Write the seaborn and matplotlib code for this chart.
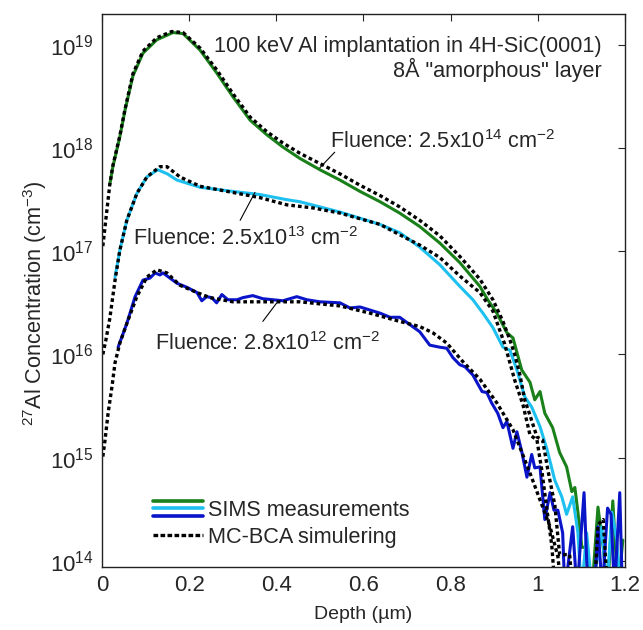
import numpy as np
import pandas as pd
import seaborn as sns
import matplotlib.pyplot as plt
from matplotlib.lines import Line2D
from matplotlib.legend_handler import HandlerBase

# SIMS, fluence 2.5e14 cm^-2  (depth in um, log10 of concentration in cm^-3)
sims_hi_depth = [0.018, 0.025, 0.041, 0.053, 0.071, 0.094, 0.126, 0.163, 0.186, 0.225,
                 0.263, 0.300, 0.340, 0.378, 0.415, 0.454, 0.500, 0.546, 0.592, 0.638,
                 0.683, 0.729, 0.775, 0.821, 0.867, 0.885, 0.906, 0.929, 0.943, 0.963,
                 0.982, 0.993, 1.005, 1.016, 1.034, 1.050, 1.066, 1.078, 1.085, 1.092,
                 1.101, 1.112, 1.124, 1.138, 1.150, 1.160, 1.172, 1.184, 1.195]
sims_hi_log = [17.65, 17.82, 18.11, 18.37, 18.70, 18.92, 19.05, 19.12, 19.11, 18.95,
               18.73, 18.50, 18.27, 18.13, 18.01, 17.90, 17.79, 17.69, 17.58, 17.48,
               17.37, 17.24, 17.08, 16.89, 16.66, 16.53, 16.40, 16.21, 16.16, 15.85,
               15.73, 15.56, 15.64, 15.43, 15.29, 15.05, 14.91, 14.67, 14.71, 14.47,
               14.13, 14.13, 13.70, 14.52, 14.13, 13.70, 14.58, 13.70, 14.20]

# SIMS, fluence 2.5e13 cm^-2
sims_mid_depth = [0.030, 0.041, 0.057, 0.080, 0.103, 0.128, 0.150, 0.172, 0.225, 0.300,
                  0.362, 0.424, 0.454, 0.500, 0.546, 0.592, 0.638, 0.683, 0.729, 0.775,
                  0.821, 0.851, 0.874, 0.897, 0.920, 0.936, 0.952, 0.970, 0.986, 1.005,
                  1.021, 1.039, 1.055, 1.066, 1.080, 1.092, 1.100, 1.112, 1.125, 1.147,
                  1.158, 1.170, 1.181, 1.190]
sims_mid_log = [16.75, 17.01, 17.30, 17.56, 17.72, 17.79, 17.75, 17.69, 17.62, 17.58,
                17.55, 17.50, 17.48, 17.43, 17.38, 17.32, 17.26, 17.18, 17.04, 16.87,
                16.66, 16.53, 16.40, 16.26, 16.07, 16.04, 15.85, 15.59, 15.49, 15.30,
                15.08, 14.78, 14.62, 14.45, 14.62, 14.27, 13.70, 14.27, 13.70, 14.33,
                13.70, 14.47, 14.20, 13.70]

# SIMS, fluence 2.8e12 cm^-2
sims_lo_depth = [0.037, 0.057, 0.076, 0.094, 0.110, 0.122, 0.133, 0.140, 0.156, 0.172,
                 0.195, 0.218, 0.229, 0.240, 0.252, 0.263, 0.275, 0.289, 0.310, 0.323,
                 0.346, 0.369, 0.392, 0.415, 0.447, 0.470, 0.500, 0.546, 0.569, 0.592,
                 0.615, 0.638, 0.661, 0.683, 0.706, 0.729, 0.752, 0.775, 0.791, 0.805,
                 0.821, 0.833, 0.851, 0.872, 0.883, 0.894, 0.908, 0.920, 0.929, 0.943,
                 0.952, 0.963, 0.975, 0.986, 0.993, 1.005, 1.016, 1.028, 1.037, 1.046,
                 1.057, 1.062, 1.080, 1.090, 1.106, 1.115, 1.130, 1.138, 1.148, 1.160,
                 1.168, 1.176, 1.188, 1.194]
sims_lo_log = [16.07, 16.30, 16.56, 16.72, 16.74, 16.79, 16.77, 16.79, 16.74, 16.69,
               16.65, 16.60, 16.52, 16.56, 16.55, 16.50, 16.58, 16.53, 16.53, 16.55,
               16.57, 16.54, 16.53, 16.52, 16.56, 16.53, 16.51, 16.50, 16.45, 16.46,
               16.43, 16.40, 16.36, 16.36, 16.29, 16.22, 16.09, 16.07, 16.06, 15.97,
               15.90, 15.88, 15.80, 15.64, 15.63, 15.53, 15.43, 15.29, 15.35, 15.09,
               15.25, 15.06, 14.81, 15.03, 14.90, 14.91, 14.40, 14.66, 14.49, 14.49,
               14.27, 13.70, 14.33, 13.70, 14.66, 13.70, 13.70, 14.33, 13.70, 14.51,
               14.45, 13.70, 14.66, 13.70]

# MC-BCA simulations
bca_hi_depth = [0.002, 0.018, 0.025, 0.041, 0.053, 0.071, 0.094, 0.126, 0.160, 0.186,
                0.225, 0.263, 0.300, 0.340, 0.378, 0.415, 0.454, 0.500, 0.546, 0.592,
                0.638, 0.683, 0.729, 0.775, 0.821, 0.867, 0.897, 0.920, 0.936, 0.947,
                0.959, 0.970, 0.982, 0.998, 1.011, 1.023, 1.039, 1.050, 1.073, 1.080,
                1.130, 1.138, 1.150, 1.160]
bca_hi_log = [17.05, 17.65, 17.83, 18.12, 18.38, 18.72, 18.94, 19.07, 19.13, 19.12,
              18.97, 18.76, 18.53, 18.30, 18.16, 18.05, 17.95, 17.85, 17.75, 17.64,
              17.54, 17.43, 17.30, 17.15, 16.95, 16.73, 16.53, 16.32, 16.14, 16.00,
              15.80, 15.56, 15.41, 15.20, 15.17, 14.88, 14.54, 14.06, 14.06, 13.70,
              13.70, 14.35, 14.40, 13.70]

bca_mid_depth = [0.002, 0.009, 0.018, 0.030, 0.041, 0.057, 0.080, 0.103, 0.133, 0.149,
                 0.179, 0.225, 0.300, 0.362, 0.424, 0.484, 0.546, 0.638, 0.683, 0.729,
                 0.775, 0.821, 0.867, 0.897, 0.924, 0.947, 0.966, 0.982, 0.998, 1.009,
                 1.021, 1.032, 1.040]
bca_mid_log = [16.00, 16.14, 16.35, 16.72, 17.01, 17.30, 17.56, 17.72, 17.82, 17.82,
               17.72, 17.63, 17.57, 17.52, 17.45, 17.42, 17.37, 17.26, 17.16, 17.06,
               16.94, 16.76, 16.60, 16.42, 16.10, 15.75, 15.51, 15.22, 15.17, 14.88,
               14.49, 14.15, 13.70]

bca_lo_depth = [0.002, 0.007, 0.014, 0.023, 0.030, 0.041, 0.057, 0.080, 0.103, 0.126,
                0.149, 0.179, 0.218, 0.248, 0.300, 0.378, 0.454, 0.546, 0.615, 0.683,
                0.729, 0.759, 0.791, 0.828, 0.867, 0.906, 0.943, 0.982, 1.005, 1.028,
                1.046, 1.055]
bca_lo_log = [15.01, 15.17, 15.43, 15.69, 15.92, 16.11, 16.30, 16.56, 16.75, 16.82,
              16.79, 16.67, 16.60, 16.55, 16.51, 16.51, 16.51, 16.47, 16.40, 16.32,
              16.27, 16.21, 16.11, 15.93, 15.76, 15.53, 15.27, 14.85, 14.59, 14.33,
              14.04, 13.70]

sims_colors = ["#1a801a", "#1ec0f0", "#0a14c8"]
fluence_labels = ["Fluence: 2.5x10$^{14}$ cm$^{-2}$",
                  "Fluence: 2.5x10$^{13}$ cm$^{-2}$",
                  "Fluence: 2.8x10$^{12}$ cm$^{-2}$"]

sims = [(sims_hi_depth, sims_hi_log), (sims_mid_depth, sims_mid_log), (sims_lo_depth, sims_lo_log)]
bca = [(bca_hi_depth, bca_hi_log), (bca_mid_depth, bca_mid_log), (bca_lo_depth, bca_lo_log)]

sns.set_style("white")
plt.rcParams['font.family'] = ['Liberation Sans', 'DejaVu Sans']
plt.rcParams['mathtext.fontset'] = 'custom'
plt.rcParams['mathtext.rm'] = 'Liberation Sans'
plt.rcParams['xtick.direction'] = 'in'
plt.rcParams['ytick.direction'] = 'in'

fig = plt.figure(figsize=(6.43, 6.30), dpi=100)
ax = fig.add_axes([0.1586, 0.10, 0.8134, 0.878])

for (d, lg), c in zip(sims, sims_colors):
    df = pd.DataFrame({"depth": d, "conc": 10.0 ** np.array(lg)})
    sns.lineplot(data=df, x="depth", y="conc", color=c, lw=2.2, ax=ax,
                 sort=False, estimator=None)

for d, lg in bca:
    df = pd.DataFrame({"depth": d, "conc": 10.0 ** np.array(lg)})
    sns.lineplot(data=df, x="depth", y="conc", color="black", lw=2.4, ax=ax,
                 sort=False, estimator=None, linestyle=(0, (1.1, 0.9)))

ax.set_yscale("log")
ax.set_xlim(0, 1.2)
ax.set_ylim(8.7e13, 2.0e19)
ax.set_xticks([0, 0.2, 0.4, 0.6, 0.8, 1.0, 1.2])
ax.set_xticklabels(["0", "0.2", "0.4", "0.6", "0.8", "1", "1.2"])
ax.set_yticks([1e14, 1e15, 1e16, 1e17, 1e18, 1e19])
ax.yaxis.set_minor_locator(plt.NullLocator())
ax.tick_params(axis="both", which="both", top=True, right=True, length=5,
               width=0.8, labelsize=16, pad=6)
for s in ax.spines.values():
    s.set_linewidth(1.0)
    s.set_color("#222222")

ax.set_xlabel("Depth (µm)", fontsize=14, labelpad=7)
ax.set_ylabel("$^{27}$Al Concentration (cm$^{-3}$)", fontsize=15.6)
ax.yaxis.set_label_coords(-0.102, 0.477)

ax.text(0.956, 0.931, "100 keV Al implantation in 4H-SiC(0001)", transform=ax.transAxes,
        ha="right", va="baseline", fontsize=15.6)
ax.text(0.956, 0.886, "8Å \"amorphous\" layer", transform=ax.transAxes,
        ha="right", va="baseline", fontsize=15.6)

label_pos = [(0.436, 0.758), (0.059, 0.582), (0.101, 0.392)]
line_ends = [((0.534, 17.96), (0.500, 17.81)),
             ((0.351, 17.57), (0.317, 17.30)),
             ((0.401, 16.50), (0.369, 16.32))]
for txt, (tx, ty), (p0, p1) in zip(fluence_labels, label_pos, line_ends):
    ax.text(tx, ty, txt, transform=ax.transAxes, ha="left", va="baseline", fontsize=15.6)
    ax.plot([p0[0], p1[0]], [10 ** p0[1], 10 ** p1[1]], color="black", lw=0.8)


class StackHandler(HandlerBase):
    def create_artists(self, legend, orig_handle, xdescent, ydescent, width, height,
                       fontsize, trans):
        arts = []
        for i, h in enumerate(orig_handle):
            y = height / 2 + (1 - i) * 5.4
            ln = Line2D([-xdescent, width - xdescent], [y, y], color=h.get_color(),
                        lw=h.get_linewidth(), transform=trans)
            arts.append(ln)
        return arts


sims_handles = tuple(Line2D([], [], color=c, lw=2.6) for c in sims_colors)
bca_handle = Line2D([], [], color="black", lw=2.4, linestyle=(0, (1.4, 0.7)))
ax.legend([sims_handles, bca_handle], ["SIMS measurements", "MC-BCA simulering"],
          handler_map={tuple: StackHandler()}, loc="lower left",
          bbox_to_anchor=(0.060, 0.0), frameon=False, fontsize=15.6,
          handlelength=2.3, handletextpad=0.23, labelspacing=0.26)

fig.savefig("out.png", dpi=100)
